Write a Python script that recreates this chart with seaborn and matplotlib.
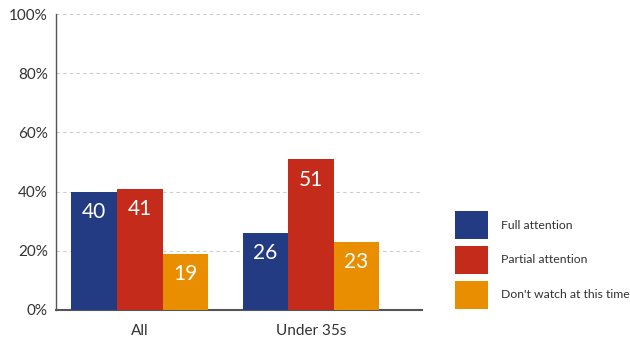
import matplotlib.pyplot as plt
import seaborn as sns
import pandas as pd

groups = ['All', 'Under 35s']
series = ['Full attention', 'Partial attention', "Don't watch at this time"]
full_attention = [40, 26]
partial_attention = [41, 51]
dont_watch = [19, 23]
colors = ['#233B83', '#C52B1A', '#E88E00']

df = pd.DataFrame({
    'group': groups * 3,
    'series': [s for s in series for _ in groups],
    'value': full_attention + partial_attention + dont_watch,
})

sns.set_style('white')
plt.rcParams['font.family'] = ['Lato', 'DejaVu Sans']

fig = plt.figure(figsize=(6.3, 3.42), dpi=100, facecolor='white')
ax = fig.add_axes([0.089, 0.094, 0.581, 0.865])

sns.barplot(data=df, x='group', y='value', hue='series', hue_order=series,
            palette=colors, width=0.8, saturation=1, linewidth=0, ax=ax, zorder=3)

for cont in ax.containers:
    ax.bar_label(cont, padding=-22, color='white', fontsize=15)

ax.set_ylim(0, 100)
ax.set_xlim(-0.49, 1.65)
ax.set_yticks(range(0, 101, 20))
ax.set_yticklabels([f'{t}%' for t in range(0, 101, 20)], fontsize=11, color='#333333')
ax.tick_params(axis='x', labelsize=11, colors='#333333', length=0, pad=10)
ax.tick_params(axis='y', length=0, pad=6)
ax.yaxis.grid(True, ls=(0, (3, 3)), color='#cccccc', lw=0.8, zorder=0)
ax.set_xlabel('')
ax.set_ylabel('')
for s in ['top', 'right']:
    ax.spines[s].set_visible(False)
ax.spines['left'].set_color('#555555')
ax.spines['left'].set_linewidth(1.0)
ax.spines['bottom'].set_color('#555555')
ax.spines['bottom'].set_linewidth(1.5)

handles, labels = ax.get_legend_handles_labels()
ax.legend(handles, labels, loc='center left', bbox_to_anchor=(0.705, 0.24),
          bbox_transform=fig.transFigure, frameon=False, fontsize=8.8,
          handlelength=2.65, handleheight=3.1, labelspacing=0.6,
          handletextpad=1.1, labelcolor='#333333')

plt.savefig('out.png', dpi=100, facecolor='white')
